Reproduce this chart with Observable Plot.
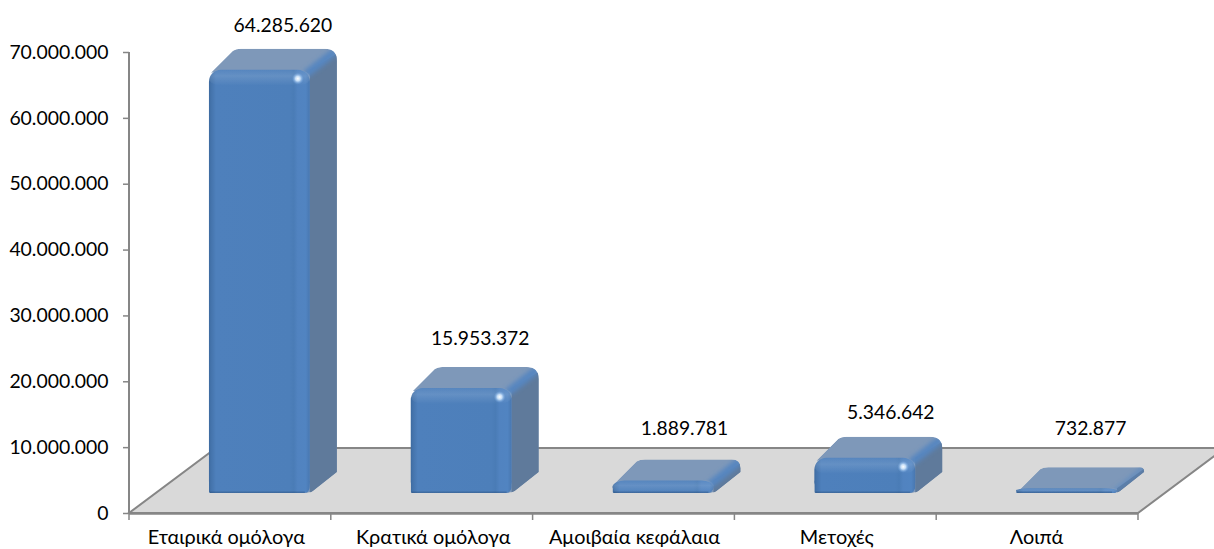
<!DOCTYPE html>
<html lang="el">
<head>
<meta charset="utf-8">
<script src="https://cdn.jsdelivr.net/npm/d3@7"></script>
<script src="https://cdn.jsdelivr.net/npm/@observablehq/plot@0.6"></script>
<style>
html,body{margin:0;padding:0;background:#fff;overflow:hidden}
svg{display:block;overflow:hidden}
</style>
</head>
<body>
<div id="chart"></div>
<script>
const categories = ["Εταιρικά ομόλογα", "Κρατικά ομόλογα", "Αμοιβαία κεφάλαια", "Μετοχές", "Λοιπά"];
const amounts = [64285620, 15953372, 1889781, 5346642, 732877];
const yTickValues = [0, 10000000, 20000000, 30000000, 40000000, 50000000, 60000000, 70000000];

// layout only: manual placement of labels, as in the source chart
const labelDx = [52.5, 48, 50.5, 55, 53];
const labelDy = [-64.6, -69.9, -72.6, -65.8, -80.2];
const categoryDx = [-4, 1, 0.5, 1, -1];

const rows = categories.map((category, i) => ({category, amount: amounts[i]}));
const fmt = d3.formatLocale({decimal: ",", thousands: ".", grouping: [3], currency: ["", ""]}).format(",d");

const FONT = "Lato, Carlito, 'Open Sans', sans-serif";
const GRAY = "#868686";
const barDx = 29.5, barDy = -20;   // position of the bars on the floor
const depthX = 27, depthY = -21;   // bar depth
const floorDx = 87, floorValue = 9870000; // floor depth

const bw = s => typeof s.bandwidth === "function" ? s.bandwidth() : s.bandwidth;

function geom(scales, d) {
  const x0 = scales.x(d.category) + barDx, x1 = x0 + bw(scales.x);
  const yb = scales.y(0) + barDy, yt = scales.y(d.amount) + barDy;
  return {x0, x1, yb, yt, h: yb - yt};
}

function gradient(defs, id, stops, vertical) {
  const g = defs.append("linearGradient").attr("id", id)
    .attr("x1", 0).attr("y1", 0).attr("x2", vertical ? 0 : 1).attr("y2", vertical ? 1 : 0);
  stops.forEach(([o, c, a]) => g.append("stop").attr("offset", o).attr("stop-color", c).attr("stop-opacity", a ?? 1));
}

// floor, wall-side axis line and category ticks
function floorMark(index, scales, values, dimensions) {
  const g = d3.create("svg:g");
  const defs = g.append("defs");
  gradient(defs, "frontFill", [
    [0, "#3d6a9f"], [0.02, "#4473ab"], [0.07, "#4e80bc"], [0.80, "#4d7fba"],
    [0.84, "#4a7cb6"], [0.88, "#5183c0"], [0.96, "#5184c1"], [1, "#4877b0"]
  ]);
  gradient(defs, "topBevel", [[0, "#ffffff", 0.05], [0.4, "#ffffff", 0.13], [1, "#ffffff", 0]], true);
  gradient(defs, "bottomEdge", [[0, "#1f3f66", 0], [1, "#1f3f66", 0.4]], true);
  const r = defs.append("radialGradient").attr("id", "spot");
  r.append("stop").attr("offset", 0).attr("stop-color", "#fff").attr("stop-opacity", 1);
  r.append("stop").attr("offset", 0.4).attr("stop-color", "#d8ecff").attr("stop-opacity", 0.85);
  r.append("stop").attr("offset", 1).attr("stop-color", "#6ea6e6").attr("stop-opacity", 0);
  defs.append("filter").attr("id", "soft").attr("x", "-30%").attr("y", "-30%").attr("width", "160%").attr("height", "160%")
    .append("feGaussianBlur").attr("stdDeviation", 2.2);

  const left = dimensions.marginLeft, right = dimensions.width - dimensions.marginRight;
  const y0 = scales.y(0), yBack = scales.y(floorValue), yTop = scales.y(yTickValues[yTickValues.length - 1]);
  g.append("path")
    .attr("d", `M${left},${y0}L${right},${y0}L${right + floorDx},${yBack}L${left + floorDx},${yBack}Z`)
    .attr("fill", "#d9d9d9").attr("stroke", GRAY).attr("stroke-width", 2);
  g.append("line").attr("x1", left).attr("x2", left).attr("y1", yTop).attr("y2", y0 + 1)
    .attr("stroke", GRAY).attr("stroke-width", 2);
  g.append("line").attr("x1", left).attr("x2", right).attr("y1", y0 + 0.5).attr("y2", y0 + 0.5)
    .attr("stroke", GRAY).attr("stroke-width", 2.5);
  const step = (right - left) / categories.length;
  d3.range(categories.length + 1).forEach(i => {
    g.append("line").attr("x1", left + i * step).attr("x2", left + i * step)
      .attr("y1", y0).attr("y2", y0 + 7).attr("stroke", GRAY).attr("stroke-width", 1.5);
  });
  return g.node();
}

// the side and top faces behind each bar's front, rounded as one solid
function backFacesMark(index, scales) {
  const g = d3.create("svg:g");
  rows.forEach((d, i) => {
    const {x0, x1, yb, yt, h} = geom(scales, d);
    const bx0 = x0 + depthX, bx1 = x1 + depthX, by = yt + depthY, byb = yb + depthY;
    const rad = Math.min(12, Math.max(4, h * 0.7));
    const lowY = Math.max(byb, by + rad);
    const outline =
      `M${x0 + 2},${yt + 3}L${bx0 - 3},${by + 2}Q${bx0},${by} ${bx0 + 5},${by}` +
      `L${bx1 - rad},${by}Q${bx1},${by} ${bx1},${by + rad}L${bx1},${lowY}` +
      `L${x1 + 3},${yb - 2}Q${x1},${yb} ${x1 - 6},${yb}L${x1 - 6},${yt + 4}Z`;
    const id = "solid" + i;
    g.append("clipPath").attr("id", id).append("path").attr("d", outline);
    const clip = g.append("g").attr("clip-path", `url(#${id})`);
    clip.append("path").attr("d", outline).attr("fill", "#7e98b9");
    clip.append("path")
      .attr("d", `M${x1},${yt}L${bx1},${by + rad * 0.4}L${bx1 + 8},${by + rad * 0.4}L${bx1 + 8},${yb + 8}L${x1},${yb + 8}Z`)
      .attr("fill", "#5f7a9b");
    clip.append("path")
      .attr("d", `M${x1 - 2},${yt + 3}L${bx1 - rad * 0.35},${by + rad * 0.4}`)
      .attr("stroke", "#5786c0").attr("stroke-width", Math.min(8, h * 0.5 + 2))
      .attr("stroke-opacity", Math.min(1, h / 15 + 0.3))
      .attr("stroke-linecap", "round").attr("fill", "none").attr("filter", "url(#soft)");
  });
  return g.node();
}

// bevels and highlights over each bar's front
function frontDetailMark(index, scales) {
  const g = d3.create("svg:g");
  rows.forEach(d => {
    const {x0, x1, yb, yt, h} = geom(scales, d);
    const w = x1 - x0, rad = Math.min(12, h / 2);
    // square off the lower corners of the rounded front
    g.append("rect").attr("x", x0).attr("y", yb - rad - 0.5).attr("width", w).attr("height", rad + 0.5)
      .attr("fill", "url(#frontFill)")
      .style("clip-path", "inset(0 round 0 0 6px 1.5px)");
    g.append("rect").attr("x", x0).attr("y", yt).attr("width", w).attr("height", Math.min(16, h))
      .attr("rx", rad).attr("fill", "url(#topBevel)");
    g.append("rect").attr("x", x0 + 1).attr("y", yb - 2.5).attr("width", w - 6).attr("height", 2.5)
      .attr("fill", "url(#bottomEdge)");
    if (h > 20) {
      g.append("circle").attr("cx", x1 - 12).attr("cy", yt + 9).attr("r", 6).attr("fill", "url(#spot)");
    }
  });
  return g.node();
}

const plot = Plot.plot({
  width: 1214,
  height: 549,
  marginTop: 52,
  marginBottom: 36,
  marginLeft: 129,
  marginRight: 76,
  style: {fontFamily: FONT, fontSize: "19px", background: "#fff", color: "#000", overflow: "hidden"},
  x: {domain: categories, paddingInner: 0.5, paddingOuter: 0.25, round: false, label: null},
  y: {domain: [0, 70000000], label: null},
  marks: [
    floorMark,
    backFacesMark,
    Plot.barY(rows, {
      x: "category", y: "amount",
      fill: "url(#frontFill)", dx: barDx, dy: barDy,
      rx: 12
    }),
    frontDetailMark,
    Plot.axisY({
      ticks: yTickValues, tickFormat: d => d === 0 ? "0" : fmt(d),
      tickSize: 6, tickPadding: 15, stroke: GRAY, strokeWidth: 1.5, fill: "#000",
      fontSize: 19.4, fontWeight: 400, label: null
    }),
    ...categories.map((c, i) => Plot.axisX({
      ticks: [c], tickSize: 0, tickPadding: 24, fill: "#000", dx: categoryDx[i],
      fontSize: 19.9, label: null, lineAnchor: "middle"
    })),
    ...rows.map((d, i) => Plot.text([d], {
      x: "category", y: "amount", text: r => fmt(r.amount),
      dx: labelDx[i], dy: labelDy[i], fontSize: 19.3, fill: "#000",
      lineAnchor: "middle", textAnchor: "middle"
    }))
  ]
});
document.getElementById("chart").appendChild(plot);
</script>
</body>
</html>
